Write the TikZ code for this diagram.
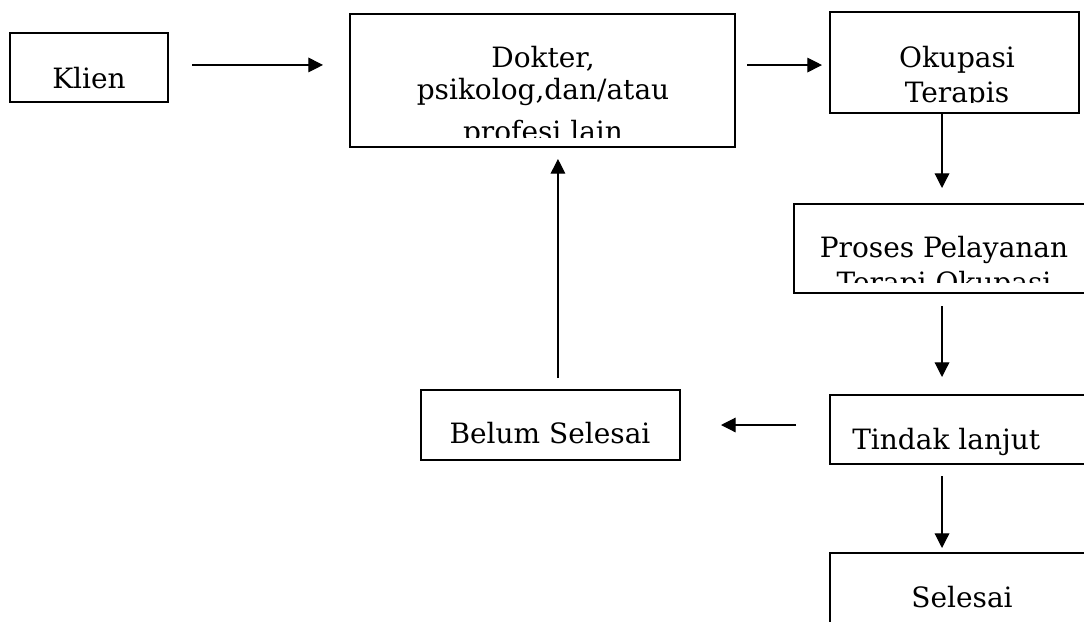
\documentclass[tikz,border=0pt]{standalone}
\usepackage{fontspec}
\setmainfont{DejaVu Serif}
\usepackage{tikz}
\usetikzlibrary{arrows.meta}

\tikzset{
  box/.style={draw, line width=0.9pt, inner sep=0pt, outer sep=0pt},
  lbl/.style={anchor=base, inner sep=0pt, font=\fontsize{21}{25}\selectfont},
  arr/.style={line width=0.9pt, -{Triangle[length=11pt,width=11pt]}}
}

\begin{document}
\begin{tikzpicture}[x=0.75pt,y=-0.75pt]
        \useasboundingbox (0,0) rectangle (1084,621);
        \clip (0,0) rectangle (1084,621);
        % boxes
        \node[box, minimum width=118.5pt, minimum height=51.75pt] (klien) at (89,67.5) {};
        \node[box, minimum width=288.75pt, minimum height=99.75pt] (dokter) at (542.5,80.5) {};
        \node[box, minimum width=186.75pt, minimum height=75.75pt] (okupasi) at (954.5,62.5) {};
        \node[box, minimum width=222pt, minimum height=66.75pt] (proses) at (942,248.5) {};
        \node[box, minimum width=194.25pt, minimum height=52.5pt] (belum) at (550.5,425) {};
        \node[box, minimum width=195pt, minimum height=51.75pt] (tindak) at (960,429.5) {};
        \node[box, minimum width=195pt, minimum height=72.75pt] (selesai) at (960,601.5) {};
        % texts
        \node[lbl] (tklien) at (89,88) {Klien};
        \begin{scope}
            \clip (dokter.north west) rectangle ([yshift=7.5pt]dokter.south east);
            \node[lbl] (tdokA) at (543,67) {Dokter,};
            \node[lbl] (tdokB) at (543,99) {psikolog,dan/atau};
            \node[lbl] (tdokC) at (543,141) {profesi lain};
        \end{scope}
        \begin{scope}
            \clip (okupasi.north west) rectangle ([yshift=8.25pt]okupasi.south east);
            \node[lbl] (tokuA) at (957,67) {Okupasi};
            \node[lbl] (tokuB) at (957,102) {Terapis};
        \end{scope}
        \begin{scope}
            \clip (proses.north west) rectangle ([yshift=8.25pt]proses.south east);
            \node[lbl] (tproA) at (944,257) {Proses Pelayanan};
            \node[lbl] (tproB) at (944,292) {Terapi Okupasi};
        \end{scope}
        \node[lbl] (tbelum) at (550,443) {Belum Selesai};
        \node[lbl, anchor=base west] (ttindak) at (852,449) {Tindak lanjut};
        \node[lbl] (tselesai) at (962,607) {Selesai};
        % arrows
        \draw[arr, shorten <=18pt, shorten >=20.25pt] ([yshift=1.9pt]klien.east) -- ([yshift=1.9pt]klien.east -| dokter.west);
        \draw[arr, shorten <=9pt, shorten >=6pt] ([yshift=-1.9pt]okupasi.west -| dokter.east) -- ([yshift=-1.9pt]okupasi.west);
        \draw[arr, shorten >=12pt] (okupasi.south -| proses.north) -- (proses.north);
        \draw[arr, shorten <=9.75pt, shorten >=13.5pt] (proses.south) -- (proses.south |- tindak.north);
        \draw[arr, shorten <=9pt, shorten >=3.75pt] (proses.south |- tindak.south) -- (proses.south |- selesai.north);
        \draw[arr, shorten <=25.5pt, shorten >=30.75pt] (tindak.west |- belum.east) -- (belum.east);
        \draw[arr, shorten <=9pt, shorten >=9pt] ([xshift=5.6pt]belum.north) -- ([xshift=5.6pt]belum.north |- dokter.south);
\end{tikzpicture}
\end{document}
